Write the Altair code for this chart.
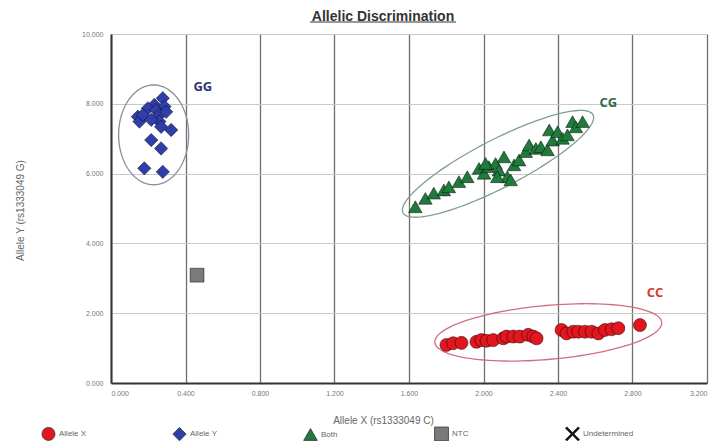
import altair as alt
import numpy as np
import pandas as pd

# ---------------- data ----------------
categories = ["Allele X", "Allele Y", "Both", "NTC", "Undetermined"]

# Allele Y (GG) - blue diamonds
gg_x = [0.278, 0.233, 0.287, 0.198, 0.242, 0.144, 0.153, 0.260, 0.260, 0.269,
        0.323, 0.216, 0.269, 0.179, 0.278, 0.171, 0.216, 0.296]
gg_y = [8.16, 7.97, 7.92, 7.87, 7.82, 7.63, 7.49, 7.68, 7.49, 7.34,
        7.25, 6.96, 6.72, 6.15, 6.05, 7.68, 7.54, 7.77]

# Both (CG) - green triangles
cg_x = [1.634, 1.688, 1.733, 1.787, 1.814, 1.868, 1.913, 1.976, 2.003, 2.029,
        2.065, 2.083, 2.110, 2.128, 2.146, 2.164, 2.191, 2.227, 2.245, 2.281,
        2.308, 2.344, 2.353, 2.371, 2.398, 2.425, 2.451, 2.478, 2.496, 2.532,
        2.074, 2.011]
cg_y = [5.05, 5.29, 5.44, 5.53, 5.62, 5.77, 5.91, 6.15, 6.01, 6.20,
        6.29, 6.10, 6.48, 5.91, 5.82, 6.25, 6.39, 6.63, 6.82, 6.72,
        6.77, 6.68, 7.25, 6.96, 7.20, 7.01, 7.11, 7.49, 7.34, 7.49,
        5.91, 6.29]

# Allele X (CC) - red circles
cc_x = [1.801, 1.837, 1.882, 1.962, 1.989, 2.016, 2.052, 2.106, 2.124, 2.160,
        2.195, 2.240, 2.267, 2.285, 2.419, 2.446, 2.482, 2.509, 2.545, 2.581,
        2.617, 2.652, 2.688, 2.724, 2.840]
cc_y = [1.09, 1.14, 1.15, 1.18, 1.23, 1.21, 1.23, 1.28, 1.33, 1.33,
        1.33, 1.38, 1.33, 1.28, 1.52, 1.42, 1.47, 1.47, 1.47, 1.47,
        1.42, 1.52, 1.54, 1.57, 1.66]

# NTC - grey square
ntc_x = [0.462]
ntc_y = [3.09]

# cluster ellipses (centre, half-axis vectors in data units)
ell_names = ["GG", "CG", "CC"]
ell_cx = [0.229, 2.078, 2.348]
ell_cy = [7.11, 6.28, 1.45]
ell_ax = [0.188, 0.510, 0.609]
ell_ay = [0.0, 1.404, 0.287]
ell_bx = [0.0, 0.059, 0.013]
ell_by = [1.43, -0.61, -0.77]

# cluster labels
lab_text = ["GG", "CG", "CC"]
lab_x = [0.493, 2.670, 2.921]
lab_y = [8.47, 8.03, 2.59]

x_ticks = [0.0, 0.4, 0.8, 1.2, 1.6, 2.0, 2.4, 2.8, 3.2]
y_ticks = [0.0, 2.0, 4.0, 6.0, 8.0, 10.0]

# ---------------- tables ----------------
points = pd.DataFrame({
    "x": cc_x + gg_x + cg_x + ntc_x,
    "y": cc_y + gg_y + cg_y + ntc_y,
    "call": (["Allele X"] * len(cc_x) + ["Allele Y"] * len(gg_x)
             + ["Both"] * len(cg_x) + ["NTC"] * len(ntc_x)),
})

t = np.linspace(0, 2 * np.pi, 121)
rows = []
for i, name in enumerate(ell_names):
    for k, tt in enumerate(t):
        rows.append({
            "group": name, "order": k,
            "x": ell_cx[i] + ell_ax[i] * np.cos(tt) + ell_bx[i] * np.sin(tt),
            "y": ell_cy[i] + ell_ay[i] * np.cos(tt) + ell_by[i] * np.sin(tt),
        })
ellipses = pd.DataFrame(rows)
labels = pd.DataFrame({"label": lab_text, "x": lab_x, "y": lab_y})

# ---------------- styling ----------------
FONT = "Liberation Sans"
fills = ["#e2161f", "#2f3ea9", "#1f7a3c", "#7a7a7a", "#111111"]
x_path = ("M-0.8,-1L0,-0.2L0.8,-1L1,-0.8L0.2,0L1,0.8L0.8,1L0,0.2"
          "L-0.8,1L-1,0.8L-0.2,0L-1,-0.8Z")
shapes = ["circle", "diamond", "triangle-up", "square", x_path]
sizes = [170, 200, 170, 250, 110]
ell_colors = {"GG": "#8a8f9c", "CG": "#7fa08e", "CC": "#d0707e"}
lab_colors = {"GG": "#2b3577", "CG": "#2d6a48", "CC": "#d63a2c"}

x_scale = alt.Scale(domain=[0, 3.2], nice=False, zero=False)
y_scale = alt.Scale(domain=[0, 10], nice=False, zero=False)

x_enc = alt.X("x:Q", scale=x_scale, axis=alt.Axis(
    values=x_ticks, format=".3f", title="Allele X (rs1333049 C)",
    grid=True, gridColor="#6f6f6f", gridWidth=1.3,
    domainColor="#333333", domainWidth=2, ticks=False,
    labelFontSize=7, labelColor="#777777", labelPadding=6, labelFont=FONT,
    titleFontSize=10, titleFontWeight="normal", titleColor="#666666",
    titleFont=FONT, titleX=272, titleY=32))
y_enc = alt.Y("y:Q", scale=y_scale, axis=alt.Axis(
    values=y_ticks, format=".3f", title="Allele Y (rs1333049 G)",
    grid=True, gridColor="#c9c9c9", gridWidth=1,
    domainColor="#333333", domainWidth=2, ticks=False,
    labelFontSize=7, labelColor="#777777", labelPadding=8, labelFont=FONT,
    titleFontSize=10, titleFontWeight="normal", titleColor="#666666",
    titleFont=FONT, titleX=-86, titleY=176, titleAngle=270))

ell_layers = []
for name in ell_names:
    ell_layers.append(
        alt.Chart(ellipses[ellipses["group"] == name])
        .mark_line(strokeWidth=1.3, color=ell_colors[name])
        .encode(x=alt.X("x:Q", scale=x_scale), y=alt.Y("y:Q", scale=y_scale),
                order="order:Q")
    )

legend = alt.Legend(
    orient="none", legendX=-70, legendY=392, direction="horizontal",
    columns=5, gridAlign="all", title=None,
    labelFontSize=8, labelColor="#666666", labelFont=FONT,
    symbolSize=90, symbolStrokeColor="#333333", symbolStrokeWidth=0.8,
    labelOffset=3, columnPadding=60)

pts = (
    alt.Chart(points)
    .mark_point(filled=True, stroke="#000000", strokeOpacity=0.45,
                strokeWidth=1, opacity=1)
    .encode(
        x=x_enc, y=y_enc,
        color=alt.Color("call:N", scale=alt.Scale(domain=categories, range=fills),
                        legend=legend),
        shape=alt.Shape("call:N", scale=alt.Scale(domain=categories, range=shapes),
                        legend=legend),
        size=alt.Size("call:N", scale=alt.Scale(domain=categories, range=sizes),
                      legend=None),
    )
)

lab_layers = []
for name in lab_text:
    lab_layers.append(
        alt.Chart(labels[labels["label"] == name])
        .mark_text(font="Open Sans", fontSize=13, fontWeight="bold",
                   color=lab_colors[name])
        .encode(x=alt.X("x:Q", scale=x_scale), y=alt.Y("y:Q", scale=y_scale),
                text="label:N")
    )

underline = (
    alt.Chart(pd.DataFrame({"k": [0]}))
    .mark_rule(color="#333333", strokeWidth=1)
    .encode(x=alt.value(199), x2=alt.value(345), y=alt.value(-12))
)

chart = (
    alt.layer(*ell_layers, pts, *lab_layers, underline)
    .properties(
        width=596, height=349,
        title=alt.TitleParams("Allelic Discrimination", font=FONT, fontSize=14,
                              fontWeight="bold", color="#333333",
                              anchor="middle", dx=-26, offset=4, dy=6),
        autosize=alt.AutoSizeParams(type="none"),
        padding={"left": 103, "top": 26, "right": 4, "bottom": 58},
    )
    .configure_view(stroke=None)
    .configure(background="#ffffff")
)

chart.save("out.html", embed_options={"renderer": "svg", "actions": False})
